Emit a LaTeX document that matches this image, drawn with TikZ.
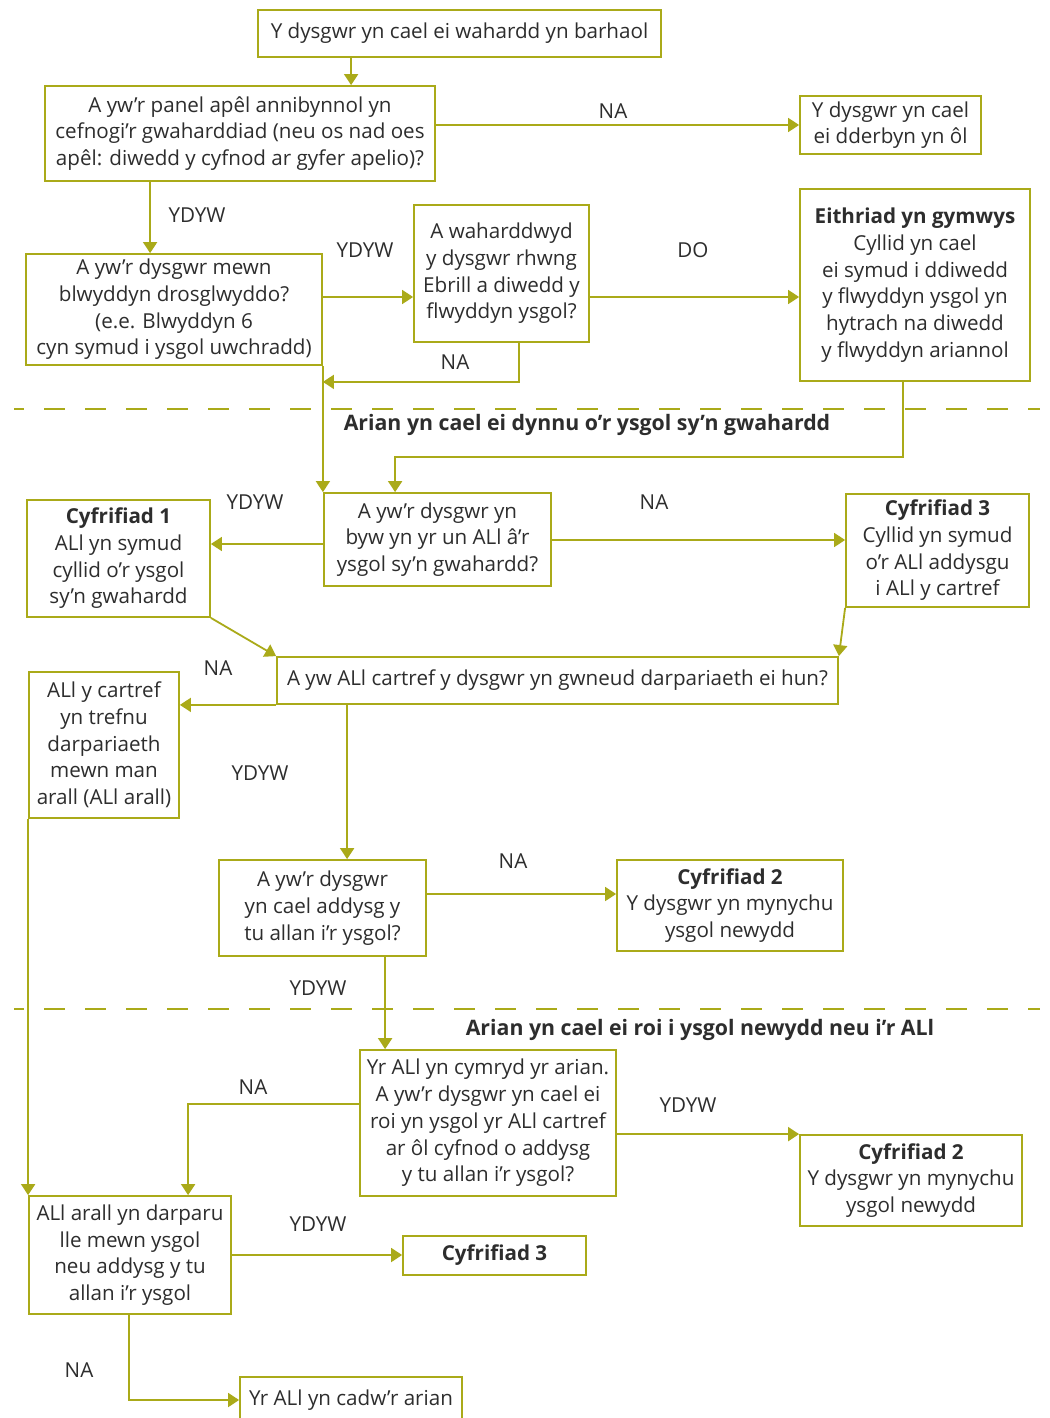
\documentclass[tikz,border=0pt]{standalone}
\usepackage{fontspec}
\setmainfont{Open Sans}
\usetikzlibrary{arrows.meta,calc}
\definecolor{olive}{RGB}{170,170,25}
\definecolor{txt}{RGB}{45,45,45}
\begin{document}
\begin{tikzpicture}[x=1pt,y=-1pt,
  every node/.style={text=txt,font=\fontsize{20.6}{26.7}\selectfont},
  box/.style={draw=olive,line width=1.8pt,inner sep=0pt,align=center,fill=white},
  arr/.style={draw=olive,line width=1.8pt,-{Triangle[length=11pt,width=14pt]}},
  sep/.style={draw=olive,line width=1.2pt,dash pattern=on 21pt off 20pt,dash phase=11pt},
  lbl/.style={inner sep=0pt},
  hd/.style={inner sep=0pt,font=\fontsize{21.3}{26.5}\selectfont\bfseries}]
\useasboundingbox (0,0) rectangle (1049,1418);
\fill[white] (0,0) rectangle (1049,1418);
% boxes
\node[box,minimum width=403,minimum height=47] (b1) at (459.5,33.5) {Y dysgwr yn cael ei wahardd yn barhaol};
\node[box,minimum width=390,minimum height=95] (b2) at (240,133.5) {A yw’r panel apêl annibynnol yn\\cefnogi’r gwaharddiad (neu os nad oes\\apêl: diwedd y cyfnod ar gyfer apelio)?};
\node[box,minimum width=181,minimum height=58] (b3) at (890.5,125) {Y dysgwr yn cael\\ei dderbyn yn ôl};
\node[box,minimum width=296,minimum height=111] (b4) at (174,309.5) {A yw’r dysgwr mewn\\blwyddyn drosglwyddo?\\(e.e. Blwyddyn 6\\cyn symud i ysgol uwchradd)};
\node[box,minimum width=175,minimum height=137] (b5) at (501.5,273.5) {A waharddwyd\\y dysgwr rhwng\\Ebrill a diwedd y\\flwyddyn ysgol?};
\node[box,minimum width=230,minimum height=192] (b6) at (915,285) {\textbf{Eithriad yn gymwys}\\Cyllid yn cael\\ei symud i ddiwedd\\y flwyddyn ysgol yn\\hytrach na diwedd\\y flwyddyn ariannol};
\node[box,minimum width=227,minimum height=93] (b7) at (437.5,539.5) {A yw’r dysgwr yn\\byw yn yr un ALl â’r\\ysgol sy’n gwahardd?};
\node[box,minimum width=183,minimum height=117] (b8) at (118.5,558.5) {\textbf{Cyfrifiad 1}\\ALl yn symud\\cyllid o’r ysgol\\sy’n gwahardd};
\node[box,minimum width=183,minimum height=113] (b9) at (937.5,550.5) {\textbf{Cyfrifiad 3}\\Cyllid yn symud\\o’r ALl addysgu\\i ALl y cartref};
\node[box,minimum width=561,minimum height=47] (b10) at (557.5,680.5) {A yw ALl cartref y dysgwr yn gwneud darpariaeth ei hun?};
\node[box,minimum width=150,minimum height=146] (b11) at (104,745) {ALl y cartref\\yn trefnu\\darpariaeth\\mewn man\\arall (ALl arall)};
\node[box,minimum width=207,minimum height=96] (b12) at (322.5,908) {A yw’r dysgwr\\yn cael addysg y\\tu allan i’r ysgol?};
\node[box,minimum width=226,minimum height=91] (b13) at (730,905.5) {\textbf{Cyfrifiad 2}\\Y dysgwr yn mynychu\\ysgol newydd};
\node[box,minimum width=256,minimum height=146] (b14) at (488,1123) {Yr ALl yn cymryd yr arian.\\A yw’r dysgwr yn cael ei\\roi yn ysgol yr ALl cartref\\ar ôl cyfnod o addysg\\y tu allan i’r ysgol?};
\node[box,minimum width=222,minimum height=91] (b15) at (911,1180.5) {\textbf{Cyfrifiad 2}\\Y dysgwr yn mynychu\\ysgol newydd};
\node[box,minimum width=202,minimum height=118] (b16) at (130,1255) {ALl arall yn darparu\\lle mewn ysgol\\neu addysg y tu\\allan i’r ysgol};
\node[box,minimum width=183,minimum height=39] (b17) at (494.5,1255.5) {\textbf{Cyfrifiad 3}};
\node[box,minimum width=222,minimum height=50,anchor=north] (b18) at (351,1376) {};
\node[lbl] (t18) at (351,1400) {Yr ALl yn cadw’r arian};
% separators
\draw[sep] (14,409) -- (1040,409);
\draw[sep] (14,1009) -- (1040,1009);
\node[hd] (h1) at (587,425) {Arian yn cael ei dynnu o’r ysgol sy’n gwahardd};
\node[hd] (h2) at (700,1030) {Arian yn cael ei roi i ysgol newydd neu i’r ALl};
% connectors
\draw[arr] ([xshift=94pt]b1.south west) -- ([xshift=94pt]b1.south west |- b2.north);
\draw[arr] (b2.east |- b3.west) -- (b3.west);
\node[lbl] (l1) at (613,111) {NA};
\draw[arr] ([xshift=106pt]b2.south west) -- ([xshift=106pt]b2.south west |- b4.north);
\node[lbl] (l2) at (197,215) {YDYW};
\draw[arr] ([yshift=12.5pt]b4.east) -- ([yshift=12.5pt]b4.east -| b5.west);
\node[lbl] (l3) at (365,250) {YDYW};
\draw[arr] ([yshift=-23.5pt]b5.east) -- ([yshift=-23.5pt]b5.east -| b6.west);
\node[lbl] (l4) at (693,250) {DO};
\draw[arr] ([xshift=106pt]b5.south west) |- (b4.east |- b6.south);
\node[lbl] (l5) at (455,362) {NA};
\draw[arr] (b4.south east) -- (b4.south east |- b7.north);
\draw[arr] ([xshift=104pt]b6.south west) -- ++(0,75) -| ([xshift=72pt]b7.north west);
\draw[arr] ([yshift=-4.5pt]b7.west) -- ([yshift=-4.5pt]b7.west -| b8.east);
\node[lbl] (l6) at (255,502) {YDYW};
\draw[arr] ([yshift=-0.5pt]b7.east) -- ([yshift=-0.5pt]b7.east -| b9.west);
\node[lbl] (l7) at (654,502) {NA};
\draw[arr] (b8.south east) -- (b10.north west);
\draw[arr] (b9.south west) -- (b10.north east);
\draw[arr] (b10.south west) -- (b10.south west -| b11.east);
\node[lbl] (l8) at (218,668) {NA};
\draw[arr] ([xshift=71pt]b10.south west) -- ([xshift=71pt]b10.south west |- b12.north);
\node[lbl] (l9) at (260,773) {YDYW};
\draw[arr] ([yshift=14pt]b12.east) -- ([yshift=14pt]b12.east -| b13.west);
\node[lbl] (l10) at (513,861) {NA};
\draw[arr] ([xshift=167pt]b12.south west) -- ([xshift=167pt]b12.south west |- b14.north);
\node[lbl] (l11) at (318,988) {YDYW};
\draw[arr] (b11.south west) -- (b11.south west |- b16.north);
\draw[arr] ([yshift=19pt]b14.west) -| ([xshift=160pt]b16.north west);
\node[lbl] (l12) at (253,1087) {NA};
\draw[arr] (b14.east |- b15.north west) -- (b15.north west);
\node[lbl] (l13) at (688,1105) {YDYW};
\draw[arr] (b16.east) -- (b16.east -| b17.west);
\node[lbl] (l14) at (318,1224) {YDYW};
\draw[arr] ([xshift=101pt]b16.south west) |- (b18.west |- t18);
\node[lbl] (l15) at (79,1370) {NA};
\end{tikzpicture}
\end{document}
